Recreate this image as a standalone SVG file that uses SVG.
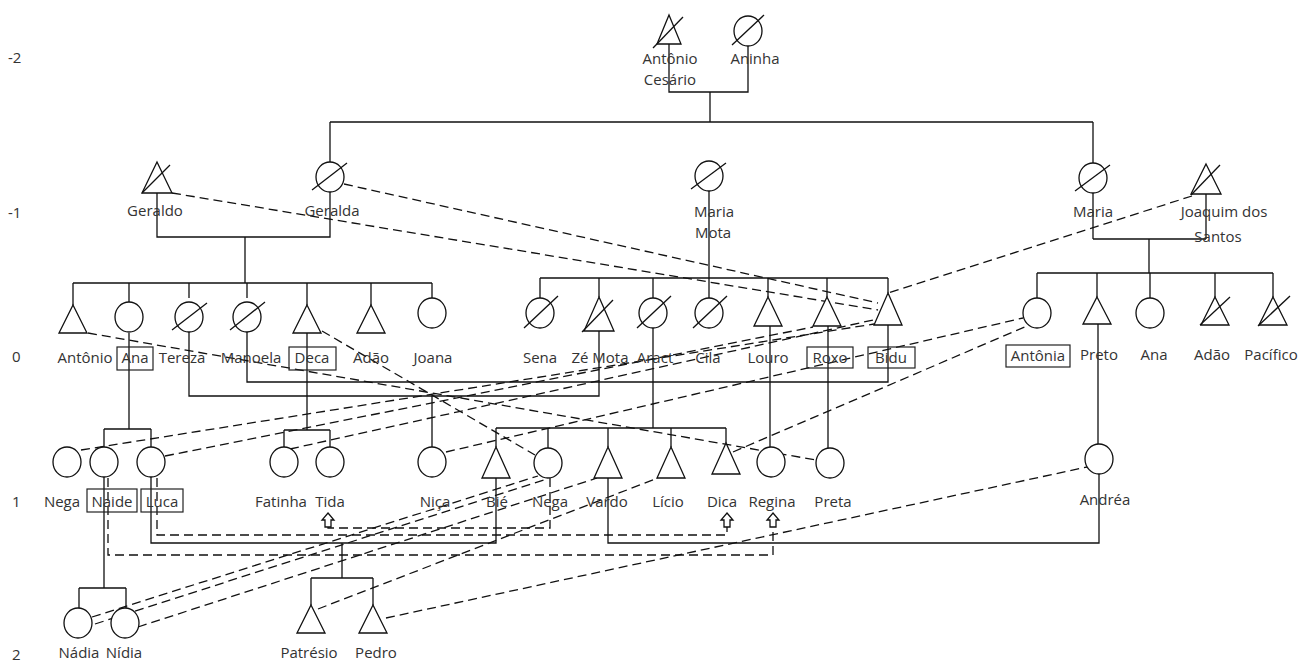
<svg xmlns="http://www.w3.org/2000/svg" width="1301" height="662" viewBox="0 0 1301 662">
<style>
text{font-family:"Open Sans","Noto Sans","Liberation Sans",sans-serif;font-size:15px;fill:#333;text-anchor:middle}
.gen{text-anchor:start}
.s{fill:none;stroke:#111;stroke-width:1.3}
.sh{fill:#fff;stroke:#111;stroke-width:1.3}
.d{fill:none;stroke:#111;stroke-width:1.3;stroke-dasharray:9 5}
.box{fill:none;stroke:#222;stroke-width:1.2}
</style>
<rect width="1301" height="662" fill="#fff"/>
<g id="generations">
<text class="gen" x="8" y="63">-2</text>
<text class="gen" x="8" y="218">-1</text>
<text class="gen" x="12" y="362">0</text>
<text class="gen" x="12" y="507">1</text>
<text class="gen" x="12" y="660">2</text>
</g>
<g id="connectors">
<path class="s" d="M669,44V92H748V46M710,92V122M330,122H1093M330,122V162M1093,122V163"/>
<path class="s" d="M157,193V237H330V192M245,237V283M73,283H432M73,283V305M129,283V302M189,283V298M247,283V298M307,283V305M371,283V305M432,283V298"/>
<path class="s" d="M709,191V278M540,278H888M540,278V298M599,278V297M653,278V298M709,278V298M768,278V297M827,278V297M888,278V293"/>
<path class="s" d="M1093,193V239M1206,194V239M1093,239H1206M1149,239V273M1037,273H1273M1037,273V298M1097,273V297M1150,273V298M1215,273V297M1273,273V297"/>
<path class="s" d="M247,332V382H888V325M189,332V396H599V331M432,396V447M653,328V428M496,428H726M496,428V447M548,428V448M608,428V447M671,428V447M726,428V443"/>
<path class="s" d="M770,326V447M828,326V448M1098,324V444"/>
<path class="s" d="M129,333V429M104,429H151M104,429V447M151,429V447M307,333V430M284,430H330M284,430V447M330,430V447"/>
<path class="s" d="M151,477V543H496V478M342,543V578M311,578H373M311,578V605M373,578V605M608,478V543H1099V474M104,477V588M79,588H126M79,588V608M126,588V608"/>
<path class="d" d="M157,478V535H727V527"/>
<path class="d" d="M550,478V528H328V527"/>
<path class="d" d="M108,478V555H773V527"/>
<path class="d" d="M172,193L878,310"/>
<path class="d" d="M344,184L878,303"/>
<path class="d" d="M1192,196L888,293"/>
<path class="d" d="M88,333L816,460"/>
<path class="d" d="M322,331L535,455"/>
<path class="d" d="M446,452L1023,318"/>
<path class="d" d="M733,452L1027,326"/>
<path class="d" d="M81,450L874,324"/>
<path class="d" d="M165,456L813,327"/>
<path class="d" d="M290,449L873,320"/>
<path class="d" d="M92,617L538,476"/>
<path class="d" d="M95,624L547,479"/>
<path class="d" d="M138,627L597,478"/>
<path class="d" d="M318,609L658,478"/>
<path class="d" d="M386,618L1087,467"/>
</g>
<g id="n-antonio-cesario"><path class="sh" d="M669,15L681,44H657Z"/><path class="s" d="M653,48L683,17"/><text x="670" y="64">Antônio</text><text x="670" y="85">Cesário</text></g>
<g id="n-aninha"><ellipse class="sh" cx="748" cy="31" rx="14" ry="15"/><path class="s" d="M732,45L764,15"/><text x="755" y="64">Aninha</text></g>
<g id="n-geraldo"><path class="sh" d="M157,162L172,193H142Z"/><path class="s" d="M142,193L170,165"/><text x="155" y="216">Geraldo</text></g>
<g id="n-geralda"><ellipse class="sh" cx="330" cy="177" rx="14" ry="15"/><path class="s" d="M312,190L347,163"/><text x="332" y="216">Geralda</text></g>
<g id="n-maria-mota"><ellipse class="sh" cx="709" cy="176" rx="14" ry="15"/><path class="s" d="M691,189L726,163"/><text x="714" y="217">Maria</text><text x="713" y="238">Mota</text></g>
<g id="n-maria"><ellipse class="sh" cx="1093" cy="178" rx="14" ry="15"/><path class="s" d="M1075,191L1110,165"/><text x="1093" y="217">Maria</text></g>
<g id="n-joaquim"><path class="sh" d="M1206,164L1221,194H1191Z"/><path class="s" d="M1191,195L1220,165"/><text x="1224" y="217">Joaquim dos</text><text x="1218" y="242">Santos</text></g>
<g id="n-antonio"><path class="sh" d="M73,305L87,333H59Z"/><text x="85" y="363">Antônio</text></g>
<g id="n-ana"><ellipse class="sh" cx="129" cy="317" rx="14" ry="15"/><rect class="box" x="117" y="347" width="36" height="23"/><text x="135" y="363">Ana</text></g>
<g id="n-tereza"><ellipse class="sh" cx="189" cy="317" rx="14" ry="15"/><path class="s" d="M172,330L207,303"/><text x="182" y="363">Tereza</text></g>
<g id="n-manoela"><ellipse class="sh" cx="247" cy="317" rx="14" ry="15"/><path class="s" d="M230,330L265,302"/><text x="251" y="363">Manoela</text></g>
<g id="n-deca"><path class="sh" d="M307,305L321,333H293Z"/><rect class="box" x="289" y="347" width="47" height="23"/><text x="312" y="363">Deca</text></g>
<g id="n-adao"><path class="sh" d="M371,305L385,333H357Z"/><text x="371" y="363">Adão</text></g>
<g id="n-joana"><ellipse class="sh" cx="432" cy="313" rx="14" ry="15"/><text x="433" y="363">Joana</text></g>
<g id="n-sena"><ellipse class="sh" cx="540" cy="313" rx="14" ry="15"/><path class="s" d="M524,328L558,296"/><text x="540" y="363">Sena</text></g>
<g id="n-ze-mota"><path class="sh" d="M599,297L614,331H584Z"/><path class="s" d="M582,332L613,300"/><text x="600" y="363">Zé Mota</text></g>
<g id="n-aract"><ellipse class="sh" cx="653" cy="313" rx="14" ry="15"/><path class="s" d="M637,328L671,296"/><text x="655" y="363">Aract</text></g>
<g id="n-cila"><ellipse class="sh" cx="709" cy="313" rx="14" ry="15"/><path class="s" d="M693,328L727,296"/><text x="708" y="363">Cila</text></g>
<g id="n-louro"><path class="sh" d="M768,297L782,326H754Z"/><text x="768" y="363">Louro</text></g>
<g id="n-roxo"><path class="sh" d="M827,297L841,326H813Z"/><rect class="box" x="807" y="347" width="46" height="21"/><text x="830" y="363">Roxo</text></g>
<g id="n-bidu"><path class="sh" d="M888,293L902,325H874Z"/><rect class="box" x="868" y="347" width="47" height="21"/><text x="891" y="363">Bidu</text></g>
<g id="n-antonia"><ellipse class="sh" cx="1037" cy="313" rx="14" ry="15"/><rect class="box" x="1006" y="345" width="64" height="22"/><text x="1038" y="361">Antônia</text></g>
<g id="n-preto"><path class="sh" d="M1097,297L1111,324H1083Z"/><text x="1099" y="360">Preto</text></g>
<g id="n-ana2"><ellipse class="sh" cx="1150" cy="313" rx="14" ry="15"/><text x="1154" y="360">Ana</text></g>
<g id="n-adao2"><path class="sh" d="M1215,297L1229,325H1201Z"/><path class="s" d="M1200,325L1230,297"/><text x="1212" y="360">Adão</text></g>
<g id="n-pacifico"><path class="sh" d="M1273,297L1287,325H1259Z"/><path class="s" d="M1258,326L1290,296"/><text x="1271" y="360">Pacífico</text></g>
<g id="n-nega-l"><ellipse class="sh" cx="67" cy="462" rx="14" ry="15"/><text x="62" y="507">Nega</text></g>
<g id="n-naide"><ellipse class="sh" cx="104" cy="462" rx="14" ry="15"/><rect class="box" x="87" y="489" width="50" height="23"/><text x="112" y="507">Naide</text></g>
<g id="n-luca"><ellipse class="sh" cx="151" cy="462" rx="14" ry="15"/><rect class="box" x="141" y="489" width="42" height="23"/><text x="162" y="507">Luca</text></g>
<g id="n-fatinha"><ellipse class="sh" cx="284" cy="462" rx="14" ry="15"/><text x="281" y="507">Fatinha</text></g>
<g id="n-tida"><ellipse class="sh" cx="330" cy="462" rx="14" ry="15"/><text x="330" y="507">Tida</text><path class="sh" d="M328,513L334,520H331V527H325V520H322Z"/></g>
<g id="n-nica"><ellipse class="sh" cx="432" cy="462" rx="14" ry="15"/><text x="435" y="507">Niça</text></g>
<g id="n-bie"><path class="sh" d="M496,447L510,478H482Z"/><text x="497" y="507">Bié</text></g>
<g id="n-nega"><ellipse class="sh" cx="548" cy="463" rx="14" ry="15"/><text x="550" y="507">Nega</text></g>
<g id="n-vardo"><path class="sh" d="M608,447L622,478H594Z"/><text x="607" y="507">Vardo</text></g>
<g id="n-licio"><path class="sh" d="M671,447L685,478H657Z"/><text x="668" y="507">Lício</text></g>
<g id="n-dica"><path class="sh" d="M726,443L740,474H712Z"/><text x="722" y="507">Dica</text><path class="sh" d="M727,513L733,520H730V527H724V520H721Z"/></g>
<g id="n-regina"><ellipse class="sh" cx="771" cy="462" rx="14" ry="15"/><text x="772" y="507">Regina</text><path class="sh" d="M773,513L779,520H776V527H770V520H767Z"/></g>
<g id="n-preta"><ellipse class="sh" cx="830" cy="463" rx="14" ry="15"/><text x="833" y="507">Preta</text></g>
<g id="n-andrea"><ellipse class="sh" cx="1099" cy="459" rx="14" ry="15"/><text x="1105" y="505">Andréa</text></g>
<g id="n-nadia"><ellipse class="sh" cx="78" cy="623" rx="14" ry="15"/><text x="79" y="658">Nádia</text></g>
<g id="n-nidia"><ellipse class="sh" cx="125" cy="623" rx="14" ry="15"/><text x="124" y="658">Nídia</text></g>
<g id="n-patresio"><path class="sh" d="M311,605L325,633H297Z"/><text x="309" y="658">Patrésio</text></g>
<g id="n-pedro"><path class="sh" d="M373,605L387,633H359Z"/><text x="376" y="658">Pedro</text></g>
</svg>
